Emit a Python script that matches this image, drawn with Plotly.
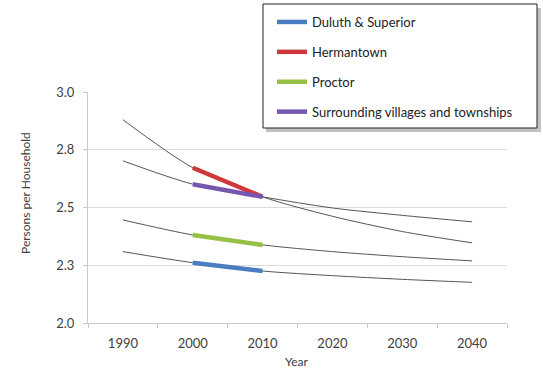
import plotly.graph_objects as go

# Projection curves (persons per household) by decade
years = [1990, 2000, 2010, 2020, 2030, 2040]
trend_hermantown = [2.880, 2.672, 2.546, 2.462, 2.396, 2.347]
trend_surrounding = [2.702, 2.601, 2.546, 2.498, 2.466, 2.438]
trend_proctor = [2.446, 2.381, 2.338, 2.309, 2.287, 2.269]
trend_duluth = [2.309, 2.261, 2.225, 2.205, 2.189, 2.176]

# Census observations, 2000 and 2010
census_years = [2000, 2010]
duluth_superior = [2.261, 2.225]
hermantown = [2.672, 2.546]
proctor = [2.381, 2.338]
surrounding = [2.601, 2.546]

series_names = ["Duluth & Superior", "Hermantown", "Proctor",
                "Surrounding villages and townships"]
series_colors = ["#4a7ec0", "#d0393b", "#96c145", "#7657b0"]

y_tick_vals = [2.0, 2.25, 2.5, 2.75, 3.0]
y_tick_text = ["2.0", "2.3", "2.5", "2.8", "3.0"]
x_tick_vals = [1990, 2000, 2010, 2020, 2030, 2040]

FONT = "Lato"
AXIS_TEXT = "#404040"
FIG_W, FIG_H = 543, 370

# plot-area geometry in pixels
L, R, T, B = 88, 507, 92, 323
W, H = R - L, B - T


def px_x(x):
    return (x - L) / W


def px_y(y):
    return (B - y) / H


fig = go.Figure()

for trend in [trend_hermantown, trend_surrounding, trend_proctor, trend_duluth]:
    fig.add_trace(go.Scatter(
        x=years, y=trend, mode="lines", showlegend=False, hoverinfo="skip",
        line=dict(color="#555555", width=1, shape="spline", smoothing=0.8),
    ))

for name, vals, color in zip(series_names,
                             [duluth_superior, hermantown, proctor, surrounding],
                             series_colors):
    fig.add_trace(go.Scatter(
        x=census_years, y=vals, mode="lines", name=name, legendgroup=name,
        line=dict(color=color, width=4.5),
    ))

# Legend frame with a soft drop shadow
fig.add_shape(type="rect", xref="paper", yref="paper",
              x0=px_x(266), x1=px_x(541), y0=px_y(132), y1=px_y(8),
              line=dict(width=0), fillcolor="rgba(120,120,120,0.45)", layer="below")
fig.add_shape(type="rect", xref="paper", yref="paper",
              x0=px_x(263), x1=px_x(537), y0=px_y(128), y1=px_y(4),
              line=dict(color="#222222", width=1), fillcolor="white", layer="below")

# Axis titles
fig.add_annotation(text="Persons per Household", xref="paper", yref="paper",
                   x=px_x(25), y=px_y(193), xanchor="center", yanchor="middle",
                   textangle=-90, showarrow=False,
                   font=dict(family=FONT, size=12, color=AXIS_TEXT))
fig.add_annotation(text="Year", xref="paper", yref="paper",
                   x=px_x(296), y=px_y(361), xanchor="center", yanchor="middle",
                   showarrow=False,
                   font=dict(family=FONT, size=12, color=AXIS_TEXT))

fig.update_layout(
    width=FIG_W, height=FIG_H,
    margin=dict(l=L, r=FIG_W - R, t=T, b=FIG_H - B, autoexpand=False),
    paper_bgcolor="white", plot_bgcolor="white",
    font=dict(family=FONT, size=12, color=AXIS_TEXT),
    showlegend=True,
    legend=dict(
        xref="container", yref="container",
        x=272 / FIG_W, y=1 - 7 / FIG_H, xanchor="left", yanchor="top",
        bgcolor="rgba(0,0,0,0)", borderwidth=0,
        font=dict(family=FONT, size=13, color="#222222"),
        tracegroupgap=10, traceorder="grouped",
    ),
    xaxis=dict(
        range=[1985, 2045], tickvals=x_tick_vals,
        ticks="", showgrid=False, zeroline=False,
        showline=True, linecolor="#c8c8c8", linewidth=1,
        minor=dict(tick0=1985, dtick=10, ticks="outside", ticklen=4,
                   tickcolor="#c8c8c8", showgrid=False),
        tickfont=dict(size=13, color=AXIS_TEXT),
        ticklabelstandoff=8,
    ),
    yaxis=dict(
        range=[2.0, 3.0], tickvals=y_tick_vals, ticktext=y_tick_text,
        ticks="outside", ticklen=4, tickcolor="#c8c8c8",
        showgrid=True, gridcolor="#dcdcdc", gridwidth=1, zeroline=False,
        showline=True, linecolor="#c8c8c8", linewidth=1,
        tickfont=dict(size=13, color=AXIS_TEXT),
        ticklabelstandoff=6,
    ),
)

fig.write_html("out.html")
